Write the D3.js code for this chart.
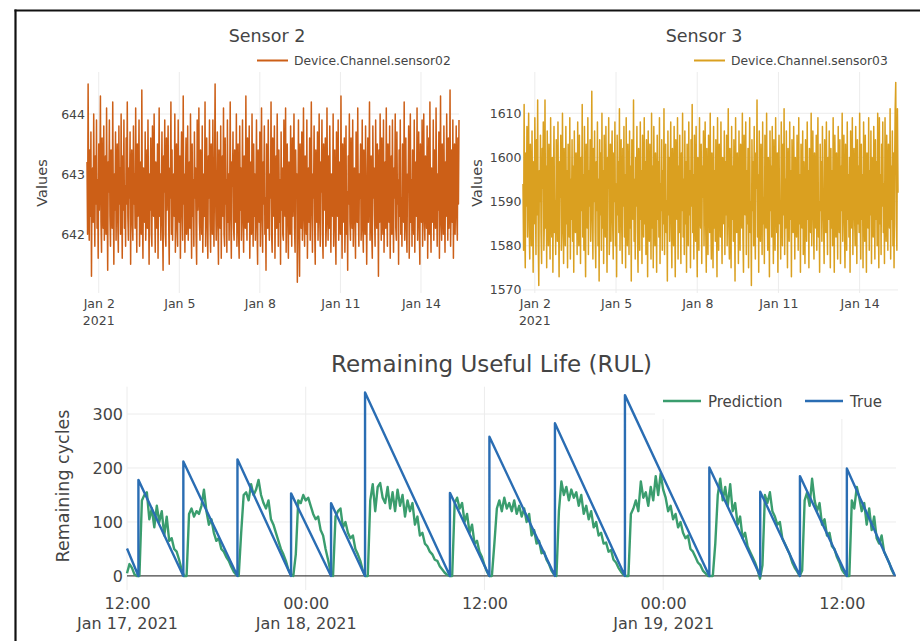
<!DOCTYPE html>
<html>
<head>
<meta charset="utf-8">
<script src="https://cdn.jsdelivr.net/npm/d3@7"></script>
<style>
body { margin: 0; background: #fff; }
svg text { font-family: "DejaVu Sans", Verdana, sans-serif; fill: #444; }
</style>
</head>
<body>
<svg id="chart" width="920" height="641"></svg>
<script>

// sensor readings every 30 minutes, first one at sensorStart
var sensorStart = "2021-01-01 13:30"

var sensor02 = [
643.2, 642.0, 644.5, 642.6, 641.9, 643.4, 642.3, 643.7, 641.3, 642.8, 643.1, 642.2, 644.0, 642.7, 641.8, 643.3, 642.5, 643.9, 642.1, 642.9,
641.6, 643.5, 642.4, 643.0, 644.3, 642.2, 641.7, 643.6, 642.8, 642.1, 643.8, 641.9, 642.6, 643.3, 642.0, 644.1, 642.5, 641.4, 643.2, 642.7,
643.9, 642.3, 641.8, 643.4, 642.9, 642.1, 644.2, 642.6, 641.5, 643.0, 642.4, 643.7, 641.9, 642.8, 643.5, 642.2, 641.7, 643.8, 642.5, 643.1,
642.0, 644.0, 642.7, 641.6, 643.3, 642.4, 643.9, 642.1, 642.8, 641.8, 643.6, 642.5, 644.2, 642.3, 641.9, 643.1, 642.6, 643.7, 641.5, 642.9,
643.4, 642.2, 641.9, 643.8, 642.5, 643.0, 642.1, 644.1, 642.7, 641.7, 643.5, 642.3, 642.9, 643.9, 641.8, 642.6, 643.2, 642.0, 644.4, 642.4,
641.6, 643.1, 642.8, 642.2, 643.7, 641.9, 642.5, 643.4, 642.1, 643.9, 642.6, 641.5, 643.0, 642.4, 643.6, 642.0, 641.8, 643.8, 642.7, 642.3,
644.0, 642.5, 641.7, 643.2, 642.9, 642.1, 643.5, 641.6, 642.8, 644.1, 642.3, 643.0, 641.9, 642.6, 643.7, 642.2, 641.4, 643.3, 642.7, 643.9,
642.0, 641.8, 643.6, 642.4, 642.9, 643.8, 642.2, 641.5, 643.1, 642.6, 644.2, 642.0, 643.4, 641.9, 642.7, 643.0, 642.3, 644.0, 641.7, 642.8,
643.5, 642.1, 641.8, 643.9, 642.6, 642.2, 643.3, 641.6, 642.9, 643.7, 642.4, 641.9, 644.3, 642.5, 643.0, 641.7, 642.8, 643.6, 642.0, 642.4,
643.8, 641.9, 642.7, 643.2, 642.1, 644.0, 642.5, 641.6, 643.5, 642.3, 642.9, 641.8, 643.7, 642.6, 643.1, 642.0, 641.5, 643.9, 642.4, 642.8,
644.1, 642.2, 641.9, 643.4, 642.7, 642.0, 643.8, 641.7, 642.5, 643.0, 642.3, 644.2, 641.8, 642.9, 643.6, 642.1, 641.6, 643.3, 642.6, 643.9,
642.2, 641.7, 643.5, 642.8, 642.0, 643.9, 642.4, 641.8, 643.1, 644.5, 642.6, 641.9, 642.5, 643.7, 642.2, 641.5, 643.4, 642.9, 642.1, 643.8,
641.6, 642.7, 643.3, 642.3, 644.1, 642.0, 641.8, 643.6, 642.5, 642.9, 641.7, 643.9, 642.2, 643.0, 641.9, 642.6, 644.2, 642.4, 641.6, 643.2,
642.8, 643.7, 642.1, 641.9, 643.4, 642.6, 642.2, 644.0, 641.8, 642.7, 643.5, 642.0, 641.6, 643.8, 642.4, 643.1, 641.9, 642.5, 643.9, 642.3,
641.7, 643.3, 642.8, 642.1, 644.3, 642.5, 641.9, 643.6, 642.2, 642.9, 643.8, 641.6, 642.4, 643.2, 642.0, 644.0, 642.6, 641.8, 643.5, 642.3,
643.0, 641.9, 642.7, 643.9, 642.1, 641.5, 643.4, 642.6, 642.2, 643.7, 641.8, 642.9, 644.1, 642.3, 641.7, 643.2, 642.5, 643.8, 642.0, 642.6,
641.4, 643.5, 642.8, 642.1, 643.9, 642.4, 641.9, 643.0, 642.6, 644.2, 642.0, 641.7, 643.6, 642.3, 642.9, 643.8, 641.6, 642.5, 643.3, 642.1,
644.0, 642.7, 641.8, 643.4, 642.2, 642.9, 641.5, 643.7, 642.4, 643.1, 642.0, 641.9, 643.9, 642.6, 642.3, 644.1, 641.7, 642.8, 643.5, 642.2,
641.6, 643.2, 642.7, 642.0, 643.8, 642.5, 641.8, 643.6, 642.3, 642.9, 644.0, 642.1, 641.7, 643.4, 642.6, 643.0, 641.2, 642.4, 643.9, 642.2,
641.3, 643.5, 642.8, 642.1, 643.7, 641.9, 642.6, 644.1, 642.3, 641.8, 643.3, 642.7, 642.0, 643.9, 641.6, 642.5, 643.1, 642.2, 643.6, 641.9,
642.9, 644.2, 642.4, 641.7, 643.0, 642.6, 643.8, 642.1, 641.5, 643.4, 642.8, 642.2, 643.7, 641.9, 642.5, 644.0, 642.3, 641.8, 643.2, 642.7,
643.9, 642.0, 641.6, 643.5, 642.4, 642.9, 643.6, 641.8, 642.2, 644.1, 642.6, 641.9, 643.3, 642.1, 643.8, 642.5, 641.7, 643.0, 642.8, 642.3,
644.0, 641.8, 642.6, 643.4, 642.1, 641.5, 643.7, 642.7, 642.3, 643.9, 641.9, 642.8, 643.2, 642.0, 644.3, 642.5, 641.6, 643.5, 642.2, 642.9,
643.6, 641.7, 642.4, 643.8, 642.0, 642.7, 641.4, 643.3, 642.5, 644.0, 642.2, 641.9, 643.6, 642.8, 642.1, 643.9, 641.8, 642.6, 643.1, 642.3,
641.6, 643.7, 642.9, 642.2, 644.1, 642.4, 641.8, 643.0, 642.6, 643.5, 641.9, 642.3, 643.9, 642.1, 641.7, 643.4, 642.8, 642.0, 643.8, 642.5,
641.5, 642.7, 643.6, 642.2, 642.9, 644.2, 641.9, 642.4, 643.3, 642.0, 641.6, 643.8, 642.6, 643.1, 642.3, 641.8, 643.9, 642.5, 642.1, 643.5,
642.7, 641.3, 643.4, 642.2, 644.0, 642.8, 641.9, 643.6, 642.4, 642.0, 643.9, 641.7, 642.6, 643.2, 642.1, 644.1, 642.5, 641.8, 643.5, 642.9,
642.2, 643.8, 641.6, 642.7, 643.3, 642.0, 643.9, 642.4, 641.7, 643.1, 642.6, 644.0, 642.1, 641.9, 643.7, 642.5, 642.9, 641.5, 643.4, 642.3,
643.9, 642.0, 642.6, 641.8, 643.5, 642.8, 642.2, 644.2, 641.9, 642.5, 643.6, 642.1, 641.7, 643.0, 642.7, 643.8, 641.6, 642.4, 644.0, 642.2,
642.9, 641.8, 643.4, 642.5, 642.0, 643.9, 641.7, 642.8, 643.2, 642.3, 644.1, 641.9, 642.6, 643.7, 642.1, 641.5, 643.5, 642.7, 642.2, 643.9,
641.8, 642.6, 644.0, 642.3, 641.9, 643.3, 642.8, 642.1, 643.8, 641.6, 642.5, 643.6, 642.0, 644.2, 642.4, 641.7, 643.1, 642.9, 642.2, 643.9,
641.9, 643.4, 642.6, 642.1, 644.1, 642.7, 641.8, 643.0, 642.4, 643.7, 641.6, 642.8, 644.3, 642.2, 641.9, 643.5, 642.5, 642.0, 643.8, 642.6,
641.7, 643.2, 642.3, 644.0, 642.8, 641.9, 643.6, 642.1, 642.7, 644.4, 641.8, 642.5, 643.4, 642.2, 643.9, 641.6, 642.9, 643.5, 642.0, 642.7,
643.8, 642.3, 641.9, 643.6, 642.5, 643.9]

var sensor03 = [
1594, 1579, 1612, 1586, 1575, 1601, 1589, 1607, 1582, 1596, 1610, 1584, 1577, 1603, 1591, 1580, 1606, 1588, 1574, 1599,
1585, 1609, 1592, 1578, 1604, 1587, 1613, 1581, 1571, 1597, 1590, 1605, 1583, 1576, 1602, 1593, 1608, 1579, 1586, 1613,
1584, 1598, 1575, 1606, 1589, 1580, 1603, 1592, 1577, 1609, 1586, 1582, 1600, 1574, 1595, 1607, 1583, 1590, 1578, 1604,
1593, 1581, 1608, 1587, 1573, 1599, 1591, 1605, 1579, 1584, 1610, 1588, 1576, 1602, 1594, 1580, 1607, 1585, 1597, 1575,
1603, 1590, 1582, 1609, 1577, 1595, 1586, 1604, 1581, 1598, 1574, 1606, 1589, 1583, 1601, 1592, 1578, 1608, 1587, 1580,
1605, 1593, 1576, 1600, 1588, 1612, 1582, 1596, 1579, 1607, 1585, 1573, 1603, 1591, 1584, 1609, 1578, 1597, 1589, 1604,
1581, 1594, 1615, 1586, 1577, 1602, 1590, 1606, 1583, 1575, 1599, 1588, 1608, 1580, 1595, 1572, 1604, 1587, 1601, 1579,
1610, 1584, 1597, 1576, 1605, 1591, 1582, 1607, 1589, 1574, 1600, 1593, 1609, 1578, 1586, 1603, 1581, 1596, 1606, 1585,
1577, 1601, 1590, 1608, 1580, 1594, 1573, 1605, 1587, 1599, 1583, 1611, 1579, 1592, 1604, 1585, 1576, 1602, 1589, 1607,
1582, 1596, 1575, 1609, 1588, 1580, 1603, 1591, 1578, 1606, 1584, 1598, 1572, 1604, 1593, 1586, 1613, 1581, 1595, 1577,
1600, 1589, 1607, 1583, 1574, 1602, 1592, 1579, 1608, 1586, 1597, 1576, 1605, 1590, 1582, 1609, 1585, 1599, 1578, 1604,
1591, 1573, 1606, 1587, 1581, 1603, 1594, 1577, 1610, 1584, 1598, 1575, 1607, 1589, 1580, 1601, 1592, 1574, 1605, 1586,
1599, 1582, 1609, 1576, 1594, 1588, 1604, 1579, 1597, 1585, 1611, 1578, 1593, 1603, 1583, 1590, 1572, 1606, 1587, 1600,
1581, 1596, 1608, 1584, 1575, 1602, 1591, 1580, 1607, 1589, 1573, 1604, 1593, 1586, 1609, 1577, 1598, 1583, 1605, 1590,
1576, 1601, 1588, 1610, 1582, 1595, 1578, 1606, 1585, 1599, 1574, 1603, 1592, 1580, 1608, 1587, 1597, 1575, 1604, 1589,
1612, 1583, 1596, 1577, 1605, 1590, 1581, 1607, 1586, 1573, 1600, 1594, 1579, 1609, 1588, 1584, 1603, 1576, 1598, 1591,
1606, 1580, 1593, 1608, 1585, 1574, 1602, 1589, 1578, 1605, 1595, 1583, 1610, 1587, 1577, 1601, 1592, 1575, 1607, 1584,
1597, 1581, 1604, 1590, 1573, 1609, 1586, 1579, 1603, 1594, 1582, 1608, 1588, 1576, 1600, 1591, 1585, 1606, 1578, 1599,
1587, 1605, 1580, 1595, 1611, 1584, 1577, 1602, 1590, 1575, 1607, 1586, 1598, 1581, 1604, 1593, 1572, 1609, 1588, 1583,
1601, 1592, 1576, 1606, 1589, 1579, 1603, 1596, 1584, 1610, 1582, 1574, 1605, 1591, 1587, 1608, 1578, 1597, 1585, 1602,
1575, 1594, 1609, 1583, 1590, 1571, 1604, 1588, 1599, 1580, 1607, 1586, 1577, 1601, 1593, 1613, 1582, 1596, 1574, 1606,
1589, 1581, 1603, 1595, 1578, 1608, 1585, 1591, 1576, 1605, 1592, 1584, 1610, 1587, 1579, 1600, 1594, 1573, 1606, 1588,
1598, 1582, 1607, 1590, 1576, 1604, 1586, 1579, 1609, 1593, 1583, 1601, 1574, 1596, 1605, 1585, 1589, 1577, 1608, 1592,
1580, 1603, 1587, 1611, 1578, 1595, 1584, 1606, 1589, 1575, 1602, 1591, 1581, 1608, 1586, 1597, 1573, 1604, 1590, 1583,
1607, 1594, 1577, 1600, 1588, 1582, 1605, 1592, 1579, 1609, 1585, 1596, 1574, 1603, 1590, 1584, 1606, 1578, 1599, 1587,
1576, 1604, 1591, 1581, 1608, 1586, 1597, 1575, 1602, 1589, 1583, 1610, 1580, 1594, 1606, 1587, 1577, 1601, 1593, 1584,
1605, 1579, 1596, 1609, 1582, 1590, 1574, 1603, 1588, 1599, 1581, 1607, 1592, 1585, 1576, 1604, 1595, 1583, 1608, 1589,
1578, 1600, 1586, 1606, 1591, 1575, 1602, 1584, 1597, 1580, 1609, 1587, 1574, 1605, 1593, 1582, 1601, 1589, 1577, 1607,
1590, 1583, 1604, 1576, 1598, 1588, 1610, 1581, 1594, 1605, 1585, 1575, 1603, 1591, 1579, 1608, 1586, 1596, 1582, 1600,
1574, 1606, 1589, 1584, 1609, 1578, 1595, 1602, 1587, 1580, 1607, 1592, 1576, 1604, 1585, 1598, 1583, 1610, 1590, 1577,
1603, 1586, 1596, 1575, 1608, 1591, 1581, 1605, 1589, 1574, 1601, 1594, 1584, 1609, 1579, 1597, 1587, 1606, 1576, 1600,
1588, 1582, 1607, 1593, 1577, 1604, 1586, 1599, 1580, 1610, 1590, 1575, 1609, 1585, 1596, 1578, 1603, 1589, 1608, 1583,
1594, 1576, 1609, 1587, 1581, 1605, 1592, 1579, 1603, 1590, 1584, 1611, 1577, 1598, 1586, 1606, 1580, 1601, 1575, 1597,
1611, 1617, 1585, 1579, 1611, 1592]

var sensorTicks = ["2021-01-02", "2021-01-05", "2021-01-08", "2021-01-11", "2021-01-14"]
var sensorTickLabels = ["Jan 2", "Jan 5", "Jan 8", "Jan 11", "Jan 14"]
var sensor02YTicks = [642, 643, 644]
var sensor03YTicks = [1570, 1580, 1590, 1600, 1610]

// RUL prediction, one value every 10 minutes from predStart
var predStart = "2021-01-17 12:00"
var prediction = [
5, 22, 15, 3, 0, 0,
140, 150, 155, 105, 125, 90, 130, 100, 120, 75, 110, 65, 70, 50, 45, 30, 12,
0, 0, 115, 125, 110, 120, 115, 130, 160, 120, 95, 105, 80, 65, 70, 50, 45, 35, 28, 17, 8, 2,
0, 80, 150, 155, 140, 170, 150, 160, 178, 150, 135, 125, 140, 105, 95, 80, 65, 50, 40, 28, 12, 3,
0, 40, 140, 135, 150, 140, 145, 130, 115, 105, 110, 85, 75, 50, 30, 8,
0, 110, 120, 125, 90, 100, 80, 70, 75, 50, 40, 28, 10,
0, 0, 140, 170, 120, 165, 172, 145, 135, 165, 125, 155, 120, 160, 130, 150, 110, 140, 120, 135, 95, 110, 75, 80, 60, 55, 45, 40, 30, 28, 18, 12, 6, 2, 0,
0, 135, 145, 125, 135, 100, 115, 80, 95, 60, 65, 45, 35, 20, 8, 0,
0, 60, 125, 140, 120, 145, 125, 135, 120, 140, 115, 130, 110, 125, 100, 115, 75, 85, 60, 65, 42, 45, 30, 22, 10, 3,
0, 120, 175, 150, 165, 140, 160, 145, 155, 130, 150, 115, 130, 105, 120, 90, 100, 75, 80, 60, 62, 45, 48, 30, 25, 15, 8, 2,
0, 0, 115, 125, 140, 120, 175, 145, 155, 130, 165, 140, 185, 150, 190, 160, 145, 120, 130, 105, 115, 90, 100, 80, 70, 75, 50, 45, 35, 25, 20, 10, 5, 0,
0, 0, 60, 150, 180, 140, 165, 130, 170, 120, 135, 95, 110, 70, 80, 55, 45, 35, 25, 12, -5,
20, 150, 135, 155, 120, 110, 95, 100, 70, 60, 50, 40, 25, 15, 8, 0,
10, 140, 155, 130, 180, 140, 120, 135, 95, 105, 75, 80, 55, 50, 35, 25, 12, 5, 0,
0, 140, 125, 165, 145, 120, 135, 95, 125, 85, 110, 70, 60, 75, 45, 35, 25, 12, 3]

// true RUL: corner points of the sawtooth
var trueTimes = [
"2021-01-17 12:00", "2021-01-17 12:46", "2021-01-17 12:46", "2021-01-17 15:47", "2021-01-17 15:47",
"2021-01-17 19:25", "2021-01-17 19:25", "2021-01-17 23:01", "2021-01-17 23:01", "2021-01-18 01:42",
"2021-01-18 01:42", "2021-01-18 03:59", "2021-01-18 03:59", "2021-01-18 09:41", "2021-01-18 09:41",
"2021-01-18 12:20", "2021-01-18 12:20", "2021-01-18 16:44", "2021-01-18 16:44", "2021-01-18 21:26",
"2021-01-18 21:26", "2021-01-19 03:06", "2021-01-19 03:06", "2021-01-19 06:31", "2021-01-19 06:31",
"2021-01-19 09:11", "2021-01-19 09:11", "2021-01-19 12:20", "2021-01-19 12:20", "2021-01-19 15:34"]
var trueValues = [51, 0, 178, 0, 212, 0, 216, 0, 153, 0, 135, 0, 340, 0, 154, 0, 258, 0, 283, 0, 335, 0, 201, 0, 156, 0, 185, 0, 199, 0]

var rulTicks = ["2021-01-17 12:00", "2021-01-18 00:00", "2021-01-18 12:00", "2021-01-19 00:00", "2021-01-19 12:00"]
var rulTickDates = ["Jan 17, 2021", "Jan 18, 2021", "", "Jan 19, 2021", ""]
var rulYTicks = [0, 100, 200, 300]
var rulEnd = "2021-01-19 15:38"

var parseTime = d3.timeParse("%Y-%m-%d %H:%M")
var parseDay = d3.timeParse("%Y-%m-%d")
var svg = d3.select("#chart")

// frame lines of the screenshot
svg.append("line").attr("x1", 15.5).attr("x2", 15.5).attr("y1", 9.5).attr("y2", 641)
  .attr("stroke", "#111").attr("stroke-width", 2.2)
svg.append("line").attr("x1", 14.5).attr("x2", 920).attr("y1", 10.5).attr("y2", 10.5)
  .attr("stroke", "#111").attr("stroke-width", 2.2)

var drawSensor = function(values, yTicks, yDomain, opt){
  var top = 72, bottom = 293
  var t0 = parseTime(sensorStart)
  var times = values.map(function(d, i){ return d3.timeMinute.offset(t0, 30 * i) })

  var xScale = d3.scaleTime()
    .domain([t0, times[times.length-1]])
    .range([opt.left, opt.right])
  var yScale = d3.scaleLinear()
    .domain(yDomain)
    .range([bottom, top])

  var g = svg.append("g")

  g.selectAll(".vgrid")
    .data(sensorTicks)
    .enter()
    .append("line")
    .attr("x1", function(d){ return xScale(parseDay(d)) })
    .attr("x2", function(d){ return xScale(parseDay(d)) })
    .attr("y1", top)
    .attr("y2", bottom)
    .attr("stroke", "#ececec")
  g.selectAll(".hgrid")
    .data(yTicks)
    .enter()
    .append("line")
    .attr("x1", opt.left)
    .attr("x2", opt.right)
    .attr("y1", function(d){ return yScale(d) })
    .attr("y2", function(d){ return yScale(d) })
    .attr("stroke", "#ececec")

  var line = d3.line()
    .x(function(d, i){ return xScale(times[i]) })
    .y(function(d){ return yScale(d) })
  g.append("path")
    .datum(values)
    .attr("d", line)
    .attr("fill", "none")
    .attr("stroke", opt.color)
    .attr("stroke-width", 1.5)
    .attr("stroke-linejoin", "round")

  var xAxis = d3.axisBottom(xScale)
    .tickValues(sensorTicks.map(parseDay))
    .tickSize(0)
    .tickPadding(6)
    .tickFormat(function(d, i){ return sensorTickLabels[i] })
  var xg = g.append("g")
    .attr("transform", "translate(0," + bottom + ")")
    .call(xAxis)
  xg.select(".domain").remove()
  xg.selectAll("text").attr("font-size", 12.5).attr("font-family", null)
  xg.append("text")
    .attr("x", xScale(parseDay(sensorTicks[0])))
    .attr("y", 32)
    .attr("text-anchor", "middle")
    .attr("font-size", 12.5)
    .text("2021")

  var yAxis = d3.axisLeft(yScale)
    .tickValues(yTicks)
    .tickSize(0)
    .tickPadding(opt.pad)
    .tickFormat(d3.format("d"))
  var yg = g.append("g")
    .attr("transform", "translate(" + opt.left + ",0)")
    .call(yAxis)
  yg.select(".domain").remove()
  yg.selectAll("text").attr("font-size", 12.5).attr("font-family", null)

  g.append("text")
    .attr("transform", "translate(" + opt.labelX + ",183) rotate(-90)")
    .attr("text-anchor", "middle")
    .attr("font-size", 14.5)
    .text("Values")

  g.append("text")
    .attr("x", opt.titleX)
    .attr("y", 42)
    .attr("text-anchor", "middle")
    .attr("font-size", 17.5)
    .text(opt.title)

  g.append("line")
    .attr("x1", opt.legendX)
    .attr("x2", opt.legendX + 31)
    .attr("y1", 60.5)
    .attr("y2", 60.5)
    .attr("stroke", opt.color)
    .attr("stroke-width", 2)
  g.append("text")
    .attr("x", opt.legendX + 37)
    .attr("y", 65)
    .attr("font-size", 12.3)
    .text(opt.name)
}

drawSensor(sensor02, sensor02YTicks, [641.02, 644.7], {
  left: 87, right: 459, pad: 2, color: "#cc5f17", labelX: 47, titleX: 267,
  title: "Sensor 2", name: "Device.Channel.sensor02", legendX: 257
})
drawSensor(sensor03, sensor03YTicks, [1569.3, 1619.35], {
  left: 523, right: 898, pad: 1.5, color: "#daa020", labelX: 482, titleX: 704,
  title: "Sensor 3", name: "Device.Channel.sensor03", legendX: 694
})

// Remaining Useful Life chart
var rul = { left: 127, right: 896, top: 386.7, bottom: 590 }

var p0 = parseTime(predStart)
var predTimes = prediction.map(function(d, i){ return d3.timeMinute.offset(p0, 10 * i) })

var rx = d3.scaleTime()
  .domain([parseTime(rulTicks[0]), parseTime(rulEnd)])
  .range([rul.left, rul.right])
var ry = d3.scaleLinear()
  .domain([-26, 350.6])
  .range([rul.bottom, rul.top])

var rg = svg.append("g")

rg.selectAll(".vgrid")
  .data(rulTicks)
  .enter()
  .append("line")
  .attr("x1", function(d){ return rx(parseTime(d)) })
  .attr("x2", function(d){ return rx(parseTime(d)) })
  .attr("y1", rul.top)
  .attr("y2", rul.bottom)
  .attr("stroke", "#ececec")
rg.selectAll(".hgrid")
  .data(rulYTicks.slice(1))
  .enter()
  .append("line")
  .attr("x1", rul.left)
  .attr("x2", rul.right)
  .attr("y1", function(d){ return ry(d) })
  .attr("y2", function(d){ return ry(d) })
  .attr("stroke", "#ececec")
rg.append("line")
  .attr("x1", rul.left)
  .attr("x2", rul.right)
  .attr("y1", ry(0))
  .attr("y2", ry(0))
  .attr("stroke", "#444")
  .attr("stroke-width", 1.2)

var predLine = d3.line()
  .x(function(d, i){ return rx(predTimes[i]) })
  .y(function(d){ return ry(d) })
var trueLine = d3.line()
  .x(function(d, i){ return rx(parseTime(trueTimes[i])) })
  .y(function(d){ return ry(d) })

rg.append("path")
  .datum(prediction)
  .attr("d", predLine)
  .attr("fill", "none")
  .attr("stroke", "#3a9d6e")
  .attr("stroke-width", 2.4)
  .attr("stroke-linejoin", "round")
rg.append("path")
  .datum(trueValues)
  .attr("d", trueLine)
  .attr("fill", "none")
  .attr("stroke", "#2a6db3")
  .attr("stroke-width", 2.4)
  .attr("stroke-linejoin", "round")

var rxAxis = d3.axisBottom(rx)
  .tickValues(rulTicks.map(parseTime))
  .tickSize(0)
  .tickPadding(8)
  .tickFormat(d3.timeFormat("%H:%M"))
var rxg = rg.append("g")
  .attr("transform", "translate(0," + rul.bottom + ")")
  .call(rxAxis)
rxg.select(".domain").remove()
rxg.selectAll("text").attr("font-size", 16).attr("font-family", null)
rxg.selectAll(".tick")
  .append("text")
  .attr("y", 39)
  .attr("text-anchor", "middle")
  .attr("font-size", 16)
  .text(function(d, i){ return rulTickDates[i] })

var ryAxis = d3.axisLeft(ry)
  .tickValues(rulYTicks)
  .tickSize(0)
  .tickPadding(4)
var ryg = rg.append("g")
  .attr("transform", "translate(" + rul.left + ",0)")
  .call(ryAxis)
ryg.select(".domain").remove()
ryg.selectAll("text").attr("font-size", 16).attr("font-family", null)

rg.append("text")
  .attr("transform", "translate(69,486) rotate(-90)")
  .attr("text-anchor", "middle")
  .attr("font-size", 17.5)
  .text("Remaining cycles")

rg.append("text")
  .attr("x", 491.5)
  .attr("y", 372)
  .attr("text-anchor", "middle")
  .attr("font-size", 23)
  .text("Remaining Useful Life (RUL)")

// legend
var legendItems = [
  { name: "Prediction", color: "#3a9d6e", x: 663 },
  { name: "True", color: "#2a6db3", x: 805 }
]
rg.append("rect")
  .attr("x", 655)
  .attr("y", 385)
  .attr("width", 242)
  .attr("height", 34)
  .attr("fill", "#fff")
var lg = rg.selectAll(".legend")
  .data(legendItems)
  .enter()
  .append("g")
  .attr("transform", function(d){ return "translate(" + d.x + ",401)" })
lg.append("line")
  .attr("x1", 0)
  .attr("x2", 38)
  .attr("stroke", function(d){ return d.color })
  .attr("stroke-width", 2.4)
lg.append("text")
  .attr("x", 45)
  .attr("y", 6)
  .attr("font-size", 15)
  .text(function(d){ return d.name })

</script>
</body>
</html>
